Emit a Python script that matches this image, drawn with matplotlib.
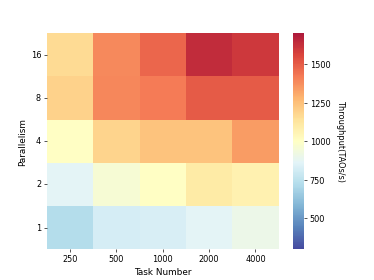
import matplotlib
matplotlib.use('Agg')
import matplotlib.pyplot as plt
import seaborn as sns
import numpy as np

# task number on x, parallelism on y (top row first)
task_numbers = ['250', '500', '1000', '2000', '4000']
parallelism = ['16', '8', '4', '2', '1']

throughput = [
    [1160, 1385, 1475, 1635, 1600],   # 16
    [1190, 1390, 1420, 1500, 1500],   # 8
    [1000, 1185, 1240, 1240, 1340],   # 4
    [865, 960, 1005, 1100, 1070],     # 2
    [725, 820, 825, 865, 905],        # 1
]
cbar_ticks = [500, 750, 1000, 1250, 1500]

fig = plt.figure(figsize=(6.4, 4.8), dpi=374/6.4)
ax = plt.gca()
sns.heatmap(np.array(throughput), ax=ax, cmap='RdYlBu_r', vmin=300, vmax=1700,
            alpha=0.9, xticklabels=task_numbers, yticklabels=parallelism,
            cbar_kws={'ticks': cbar_ticks})
ax.set_xlabel('Task Number', fontsize=11)
ax.set_ylabel('Parallelism', fontsize=11)
plt.yticks(rotation=0)
cbar = ax.collections[0].colorbar
cbar.set_label('Throughput(TAOs/s)', rotation=270, labelpad=18)

plt.savefig('out.png', dpi=374/6.4)
